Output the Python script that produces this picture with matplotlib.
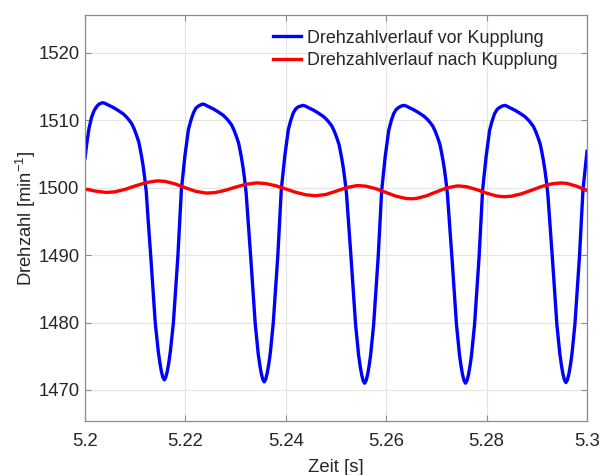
import matplotlib
matplotlib.use("Agg")
import matplotlib.pyplot as plt

plt.rcParams['font.family'] = ['Liberation Sans', 'DejaVu Sans']
plt.rcParams['mathtext.default'] = 'regular'

# ---- data ----
t_vor = [
    5.2000, 5.2004, 5.2008, 5.2013, 5.2018, 5.2023, 5.2028, 5.2035,
    5.2040, 5.2045, 5.2056, 5.2066, 5.2076, 5.2083, 5.2088, 5.2093, 5.2098, 5.2103,
    5.2107, 5.2110, 5.2113, 5.2116, 5.2119, 5.2122, 5.2126, 5.2131, 5.2140, 5.2146,
    5.2149, 5.2152, 5.2155, 5.2158,
    5.2161, 5.2164, 5.2167, 5.2170, 5.2176, 5.2185, 5.2192, 5.2196, 5.2199, 5.2202,
    5.2206, 5.2211, 5.2216, 5.2221, 5.2226, 5.2231, 5.2235,
    5.2239, 5.2244, 5.2255, 5.2265, 5.2275, 5.2282, 5.2287, 5.2292, 5.2297, 5.2302,
    5.2306, 5.2309, 5.2312, 5.2315, 5.2318, 5.2321, 5.2325, 5.2330, 5.2339, 5.2345,
    5.2348, 5.2351, 5.2354, 5.2357,
    5.2360, 5.2363, 5.2366, 5.2369, 5.2375, 5.2384, 5.2391, 5.2395, 5.2398, 5.2401,
    5.2405, 5.2410, 5.2415, 5.2420, 5.2425, 5.2430, 5.2434,
    5.2439, 5.2444, 5.2455, 5.2465, 5.2475, 5.2482, 5.2487, 5.2492, 5.2497, 5.2502,
    5.2506, 5.2509, 5.2512, 5.2515, 5.2518, 5.2521, 5.2525, 5.2530, 5.2539, 5.2545,
    5.2548, 5.2551, 5.2554, 5.2557,
    5.2560, 5.2563, 5.2566, 5.2569, 5.2575, 5.2584, 5.2591, 5.2595, 5.2598, 5.2601,
    5.2605, 5.2610, 5.2615, 5.2620, 5.2625, 5.2630, 5.2635,
    5.2640, 5.2645, 5.2656, 5.2666, 5.2676, 5.2683, 5.2688, 5.2693, 5.2698, 5.2703,
    5.2707, 5.2710, 5.2713, 5.2716, 5.2719, 5.2722, 5.2726, 5.2731, 5.2740, 5.2746,
    5.2749, 5.2752, 5.2755, 5.2758,
    5.2761, 5.2764, 5.2767, 5.2770, 5.2776, 5.2785, 5.2792, 5.2796, 5.2799, 5.2802,
    5.2806, 5.2811, 5.2816, 5.2821, 5.2826, 5.2831, 5.2836,
    5.2840, 5.2845, 5.2856, 5.2866, 5.2876, 5.2883, 5.2888, 5.2893, 5.2898, 5.2903,
    5.2907, 5.2910, 5.2913, 5.2916, 5.2919, 5.2922, 5.2926, 5.2931, 5.2940, 5.2946,
    5.2949, 5.2952, 5.2955, 5.2958,
    5.2961, 5.2964, 5.2967, 5.2970, 5.2976, 5.2985, 5.2992, 5.2996, 5.3000,
]
n_vor = [
    1504.4, 1506.8, 1508.8, 1510.4, 1511.4, 1512.0, 1512.4, 1512.6,
    1512.5, 1512.3, 1511.9, 1511.45, 1510.95, 1510.45, 1510.0, 1509.5, 1508.7, 1507.7,
    1506.8, 1505.7, 1504.5, 1503.1, 1501.4, 1499.4, 1495.0, 1489.8, 1479.9, 1475.7,
    1474.1, 1472.8, 1471.9, 1471.5,
    1471.9, 1472.8, 1474.1, 1475.7, 1479.9, 1489.8, 1499.7, 1502.6, 1504.7, 1506.4,
    1508.6, 1510.0, 1511.1, 1511.8, 1512.1, 1512.3, 1512.4,
    1512.3, 1512.1, 1511.7, 1511.25, 1510.75, 1510.25, 1509.8, 1509.3, 1508.5, 1507.5,
    1506.6, 1505.5, 1504.3, 1502.9, 1501.2, 1499.2, 1495.0, 1489.8, 1479.9, 1475.4,
    1473.8, 1472.5, 1471.6, 1471.2,
    1471.6, 1472.5, 1473.8, 1475.4, 1479.9, 1489.8, 1499.7, 1502.6, 1504.7, 1506.4,
    1508.6, 1510.0, 1511.1, 1511.7, 1512.0, 1512.1, 1512.2,
    1512.1, 1511.9, 1511.5, 1511.05, 1510.55, 1510.05, 1509.6, 1509.1, 1508.3, 1507.3,
    1506.4, 1505.3, 1504.1, 1502.7, 1501.0, 1499.0, 1494.8, 1489.6, 1479.7, 1475.2,
    1473.6, 1472.3, 1471.4, 1471.0,
    1471.4, 1472.3, 1473.6, 1475.2, 1479.7, 1489.7, 1499.6, 1502.5, 1504.6, 1506.3,
    1508.5, 1509.9, 1511.0, 1511.6, 1511.9, 1512.1, 1512.2,
    1512.1, 1511.9, 1511.5, 1511.05, 1510.55, 1510.05, 1509.6, 1509.1, 1508.3, 1507.3,
    1506.4, 1505.3, 1504.1, 1502.7, 1501.0, 1499.0, 1494.8, 1489.6, 1479.7, 1475.2,
    1473.6, 1472.3, 1471.4, 1471.0,
    1471.4, 1472.3, 1473.6, 1475.2, 1479.7, 1489.7, 1499.6, 1502.5, 1504.6, 1506.3,
    1508.5, 1509.9, 1511.0, 1511.6, 1511.9, 1512.1, 1512.2,
    1512.1, 1511.9, 1511.5, 1511.05, 1510.55, 1510.05, 1509.6, 1509.1, 1508.3, 1507.3,
    1506.4, 1505.3, 1504.1, 1502.7, 1501.0, 1499.0, 1494.8, 1489.6, 1479.7, 1475.3,
    1473.7, 1472.4, 1471.5, 1471.1,
    1471.5, 1472.4, 1473.7, 1475.3, 1479.8, 1489.8, 1499.7, 1502.6, 1505.4,
]

t_nach = [
    5.2000, 5.2020, 5.2040, 5.2045, 5.2060, 5.2080, 5.2100, 5.2120, 5.2140, 5.2147,
    5.2160, 5.2180, 5.2200, 5.2220, 5.2240, 5.2245, 5.2260, 5.2280, 5.2300, 5.2320,
    5.2340, 5.2344, 5.2360, 5.2380, 5.2400, 5.2420, 5.2440, 5.2460, 5.2480, 5.2500,
    5.2520, 5.2540, 5.2546, 5.2560, 5.2580, 5.2600, 5.2620, 5.2640, 5.2650, 5.2660,
    5.2680, 5.2700, 5.2720, 5.2740, 5.2745, 5.2760, 5.2780, 5.2800, 5.2820, 5.2835,
    5.2850, 5.2870, 5.2890, 5.2910, 5.2930, 5.2948, 5.2960, 5.2980, 5.3000,
]
n_nach = [
    1499.8, 1499.5, 1499.31, 1499.3, 1499.39, 1499.75, 1500.25, 1500.72, 1500.98, 1501.0,
    1500.92, 1500.54, 1499.98, 1499.47, 1499.21, 1499.2, 1499.28, 1499.62, 1500.08, 1500.49,
    1500.69, 1500.7, 1500.61, 1500.28, 1499.80, 1499.31, 1498.94, 1498.8, 1498.99, 1499.47,
    1499.99, 1500.28, 1500.3, 1500.21, 1499.83, 1499.27, 1498.72, 1498.39, 1498.35, 1498.40,
    1498.78, 1499.38, 1499.94, 1500.24, 1500.25, 1500.14, 1499.72, 1499.18, 1498.76, 1498.65,
    1498.74, 1499.10, 1499.63, 1500.18, 1500.57, 1500.7, 1500.63, 1500.2, 1499.55,
]

x_ticks = [5.2, 5.22, 5.24, 5.26, 5.28, 5.3]
x_ticklabels = ['5.2', '5.22', '5.24', '5.26', '5.28', '5.3']
y_ticks = [1470, 1480, 1490, 1500, 1510, 1520]
label_vor = 'Drehzahlverlauf vor Kupplung'
label_nach = 'Drehzahlverlauf nach Kupplung'

fig = plt.figure(figsize=(6.01, 4.75), dpi=100)
ax = fig.add_axes([85/601, 1 - 421/475, (587 - 85)/601, (421 - 15)/475])

ax.plot(t_vor, n_vor, color='#0000ff', lw=2.4, label=label_vor, solid_joinstyle='round')
ax.plot(t_nach, n_nach, color='#ff0000', lw=2.4, label=label_nach, solid_joinstyle='round')

ax.set_xlim(5.2, 5.3)
ax.set_ylim(1465.4, 1525.6)
ax.set_xticks(x_ticks)
ax.set_xticklabels(x_ticklabels)
ax.set_yticks(y_ticks)

ax.grid(True, color='#e4e4e4', lw=0.8)
ax.set_axisbelow(True)
for s in ax.spines.values():
    s.set_color('#8c8c8c')
    s.set_linewidth(0.9)
ax.tick_params(direction='in', length=4, width=0.8, color='#8c8c8c',
               top=True, right=True, labelsize=13.3, labelcolor='#262626')
ax.tick_params(axis='x', pad=9)
ax.tick_params(axis='y', pad=4)

ax.set_xlabel('Zeit [s]', fontsize=13.3, color='#262626', labelpad=6)
ax.set_ylabel('Drehzahl [min$^{-1}$]', fontsize=13.3, color='#262626', labelpad=0)

leg = ax.legend(loc='upper right', bbox_to_anchor=(0.941, 0.964), frameon=False,
                fontsize=12.9, handlelength=1.6, handletextpad=0.3,
                labelspacing=0.3, borderaxespad=0.0, borderpad=0.0)
for txt in leg.get_texts():
    txt.set_color('#262626')

fig.savefig('out.png', dpi=100)
